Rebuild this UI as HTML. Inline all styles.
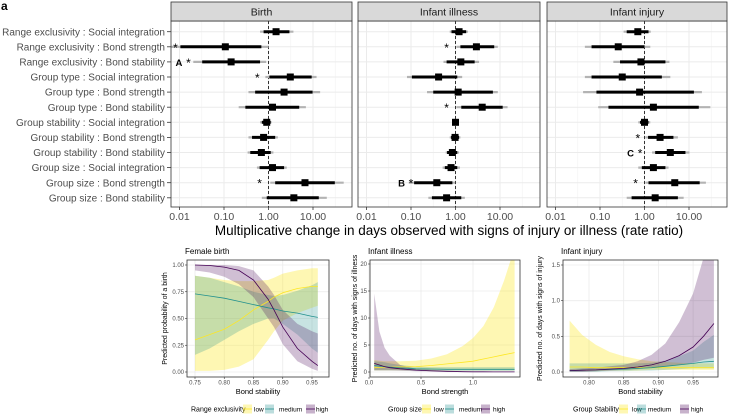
<!DOCTYPE html>
<html><head><meta charset="utf-8"><style>
html,body{margin:0;padding:0;background:#fff;}
svg{display:block;font-family:"Liberation Sans",sans-serif;}
</style></head><body>
<svg id="c" width="730" height="415" viewBox="0 0 730 415" xmlns="http://www.w3.org/2000/svg">
<text x="1" y="10" font-size="12" font-weight="bold" fill="#000">a</text>
</svg>
<script>
// ---------- Top forest-plot data (log10 rate ratios) ----------
const rowLabels = ["Range exclusivity : Social integration","Range exclusivity : Bond strength","Range exclusivity : Bond stability","Group type : Social integration","Group type : Bond strength","Group type : Bond stability","Group stability : Social integration","Group stability : Bond strength","Group stability : Bond stability","Group size : Social integration","Group size : Bond strength","Group size : Bond stability"];
const panelTitles = ["Birth","Infant illness","Infant injury"];
const tickVals = [0.01,0.1,1,10];
const tickLabels = ["0.01","0.10","1.00","10.00"];
const birthEst = [0.17,-0.97,-0.84,0.49,0.35,0.09,-0.04,-0.11,-0.16,0.09,0.82,0.57];
const birthLo = [-0.11,-1.98,-1.49,0.02,-0.30,-0.52,-0.15,-0.37,-0.41,-0.20,0.15,-0.04];
const birthHi = [0.47,-0.16,-0.19,0.97,0.99,0.69,0.05,0.15,0.05,0.35,1.49,1.13];
const birthLo95 = [-0.19,-2.20,-1.69,-0.07,-0.45,-0.67,-0.19,-0.45,-0.47,-0.26,0.04,-0.15];
const birthHi95 = [0.56,0.00,-0.05,1.08,1.16,0.84,0.07,0.21,0.11,0.41,1.69,1.31];
const illEst = [0.08,0.47,0.12,-0.38,0.06,0.60,0.00,-0.01,-0.07,-0.10,-0.42,-0.20];
const illLo = [-0.09,0.11,-0.20,-0.98,-0.50,0.13,-0.05,-0.10,-0.19,-0.24,-0.93,-0.53];
const illHi = [0.24,0.87,0.43,0.04,0.84,1.06,0.06,0.08,0.04,0.04,-0.07,0.13];
const illLo95 = [-0.13,0.02,-0.27,-1.09,-0.64,0.02,-0.07,-0.13,-0.22,-0.29,-1.05,-0.61];
const illHi95 = [0.28,0.95,0.53,0.15,0.95,1.17,0.07,0.11,0.08,0.10,-0.01,0.21];
const injEst = [-0.15,-0.59,-0.08,-0.50,-0.11,0.20,0.00,0.35,0.58,0.20,0.68,0.24];
const injLo = [-0.40,-1.19,-0.55,-1.19,-1.08,-0.81,-0.10,0.08,0.24,-0.06,0.09,-0.29];
const injHi = [0.09,0.00,0.47,0.39,1.11,1.22,0.09,0.65,0.92,0.47,1.24,0.75];
const injLo95 = [-0.47,-1.34,-0.70,-1.34,-1.38,-1.04,-0.14,0.02,0.17,-0.14,0.02,-0.40];
const injHi95 = [0.14,0.13,0.56,0.58,1.29,1.48,0.13,0.75,1.01,0.54,1.38,0.88];
const birthStars = [1,2,3,10];
const illStars = [1,5,10];
const injStars = [7,8,10];
const birthStarX = [-2.09,-1.8,-0.25,-0.2];
const illStarX = [-0.2,-0.2,-1.0];
const injStarX = [-0.15,-0.1,-0.2];

// ---------- Bottom panel data ----------
const birthX = [0.75,0.775,0.80,0.825,0.85,0.875,0.885,0.90,0.925,0.95,0.96];
const birthLowFit = [0.30,0.35,0.40,0.48,0.58,0.66,0.70,0.74,0.78,0.80,0.80];
const birthLowLo = [0.01,0.01,0.02,0.05,0.12,0.30,0.38,0.48,0.55,0.60,0.62];
const birthLowHi = [0.90,0.88,0.86,0.85,0.85,0.86,0.88,0.92,0.95,0.97,0.97];
const birthMedFit = [0.73,0.71,0.69,0.66,0.63,0.60,0.59,0.57,0.55,0.52,0.51];
const birthMedLo = [0.16,0.22,0.30,0.38,0.45,0.50,0.50,0.45,0.35,0.22,0.18];
const birthMedHi = [0.90,0.88,0.84,0.80,0.75,0.72,0.71,0.72,0.76,0.81,0.84];
const birthHighFit = [1.00,0.995,0.98,0.95,0.86,0.68,0.58,0.42,0.22,0.10,0.06];
const birthHighLo = [0.95,0.93,0.89,0.82,0.70,0.50,0.42,0.26,0.10,0.03,0.01];
const birthHighHi = [1.00,1.00,1.00,0.99,0.95,0.80,0.72,0.58,0.45,0.38,0.36];

const illX = [0.05,0.1,0.15,0.2,0.3,0.45,0.6,0.75,0.9,1.0,1.1,1.2,1.3,1.4];
const illLowFit = [0.8,0.85,0.9,0.9,0.95,1.0,1.2,1.5,1.8,2.0,2.4,2.8,3.2,3.6];
const illLowLo = [0.3,0.3,0.3,0.3,0.3,0.3,0.3,0.3,0.3,0.3,0.3,0.3,0.3,0.3];
const illLowHi = [2.2,2.1,2.0,2.0,2.0,2.1,2.5,3.3,4.8,6.3,8.5,12,17,23];
const illMedFit = [1.2,1.1,1.0,0.9,0.75,0.6,0.55,0.5,0.5,0.5,0.5,0.5,0.5,0.5];
const illMedLo = [0.3,0.3,0.3,0.3,0.3,0.25,0.2,0.2,0.2,0.2,0.2,0.2,0.2,0.2];
const illMedHi = [2.0,1.9,1.8,1.6,1.3,1.0,0.9,0.9,0.9,0.9,0.9,0.9,0.9,0.9];
const illHighFit = [1.6,1.3,1.0,0.8,0.6,0.35,0.2,0.12,0.06,0.04,0.03,0.02,0.02,0.02];
const illHighLo = [0.3,0.3,0.3,0.3,0.25,0.15,0.1,0.05,0.02,0.01,0.01,0.01,0.01,0.01];
const illHighHi = [14.5,7.5,4.5,3.0,1.3,0.6,0.4,0.3,0.1,0.05,0.04,0.03,0.03,0.03];

const injX = [0.772,0.79,0.81,0.83,0.85,0.87,0.89,0.91,0.93,0.95,0.965,0.98];
const injLowFit = [0.07,0.07,0.06,0.06,0.06,0.06,0.06,0.06,0.06,0.06,0.06,0.06];
const injLowLo = [0.01,0.01,0.01,0.02,0.02,0.02,0.03,0.03,0.03,0.03,0.03,0.03];
const injLowHi = [0.72,0.52,0.38,0.28,0.22,0.18,0.15,0.14,0.13,0.12,0.12,0.12];
const injMedFit = [0.02,0.025,0.03,0.035,0.04,0.05,0.06,0.08,0.10,0.12,0.14,0.15];
const injMedLo = [0.0,0.0,0.0,0.01,0.01,0.02,0.02,0.03,0.04,0.05,0.05,0.05];
const injMedHi = [0.12,0.12,0.12,0.12,0.12,0.12,0.13,0.16,0.22,0.30,0.42,0.52];
const injHighFit = [0.02,0.025,0.03,0.04,0.05,0.07,0.10,0.15,0.23,0.35,0.50,0.68];
const injHighLo = [0.0,0.0,0.01,0.02,0.03,0.04,0.06,0.08,0.10,0.13,0.17,0.20];
const injHighHi = [0.04,0.05,0.06,0.08,0.10,0.15,0.24,0.40,0.70,1.10,1.60,2.00];

const NS = "http://www.w3.org/2000/svg";
const svg = document.getElementById("c");
function mk(tag, attrs, parent){
  const e = document.createElementNS(NS, tag);
  for (const k in attrs) e.setAttribute(k, attrs[k]);
  (parent||svg).appendChild(e);
  return e;
}

// ---------- Top panels ----------
const panelsTop = [{l:171,r:352},{l:358,r:540},{l:547,r:727}];
const est=[birthEst,illEst,injEst], lo=[birthLo,illLo,injLo], hi=[birthHi,illHi,injHi], lo95=[birthLo95,illLo95,injLo95], hi95=[birthHi95,illHi95,injHi95];
const stars=[birthStars,illStars,injStars], starX=[birthStarX,illStarX,injStarX];
const letters = [{p:0,row:2,t:"A"},{p:1,row:10,t:"B"},{p:2,row:8,t:"C"}];
const pTop=21, pBot=207;
function rowY(i){ return 31.7 + i*15.1; }
panelsTop.forEach((P,pi)=>{
  const xs = v => P.l + 8.5 + (v + 2)*44.5;
  const g = mk("g",{});
  
  
  for (let d=-2; d<=2; d++){
    const xm = xs(d + 0.5);
    if (xm>P.l && xm<P.r) mk("line",{x1:xm,x2:xm,y1:pTop,y2:pBot,stroke:"#f2f2f2","stroke-width":0.6},g);
  }
  tickVals.forEach(t=>{ const x=xs(Math.log10(t)); mk("line",{x1:x,x2:x,y1:pTop,y2:pBot,stroke:"#ebebeb","stroke-width":1},g); });
  rowLabels.forEach((_,i)=>mk("line",{x1:P.l,x2:P.r,y1:rowY(i),y2:rowY(i),stroke:"#ebebeb","stroke-width":1},g));
  mk("line",{x1:xs(0),x2:xs(0),y1:pTop,y2:pBot,stroke:"#333","stroke-width":1,"stroke-dasharray":"3,2"},g);
  rowLabels.forEach((_,i)=>{
    const y=rowY(i);
    const a=Math.max(P.l, xs(lo95[pi][i])), b=Math.min(P.r, xs(hi95[pi][i]));
    const o = mk("line",{x1:a,x2:b,y1:y,y2:y,stroke:"#b3b3b3","stroke-width":2.2},g);
    
    
    const c = mk("line",{x1:Math.max(P.l,xs(lo[pi][i])),x2:xs(hi[pi][i]),y1:y,y2:y,stroke:"#000","stroke-width":3},g);
    
    
    const s = mk("rect",{x:xs(est[pi][i])-3.5,y:y-3.5,width:7,height:7,fill:"#000"},g);
    
    
  });
  stars[pi].forEach((r,k)=>{
    const t = mk("text",{x:xs(starX[pi][k]),y:rowY(r)+5,"font-size":12,"text-anchor":"middle",fill:"#000"},g);
    t.textContent="*";
    
    
  });
  letters.filter(L=>L.p===pi).forEach(L=>{
    const sx = starX[pi][stars[pi].indexOf(L.row)];
    const t = mk("text",{x:xs(sx)-6,y:rowY(L.row)+4,"font-size":9.5,"font-weight":"bold","text-anchor":"end",fill:"#000"},g);
    t.textContent=L.t;
    
    
  });
  mk("rect",{x:P.l,y:pTop,width:P.r-P.l,height:pBot-pTop,fill:"none",stroke:"#333","stroke-width":0.8},g);
  mk("rect",{x:P.l,y:2,width:P.r-P.l,height:pTop-2,fill:"#d9d9d9",stroke:"#333","stroke-width":0.8},g);
  const st = mk("text",{x:(P.l+P.r)/2,y:15.5,"font-size":10.5,"text-anchor":"middle",fill:"#1a1a1a"},g);
  st.textContent = panelTitles[pi];
  
  
  tickVals.forEach((t,k)=>{
    const x=xs(Math.log10(t));
    mk("line",{x1:x,x2:x,y1:pBot,y2:pBot+3,stroke:"#333","stroke-width":0.8},g);
    const tl = mk("text",{x:x,y:pBot+13,"font-size":10.5,"text-anchor":"middle",fill:"#4d4d4d"},g);
    tl.textContent = tickLabels[k];
    
    
  });
});
rowLabels.forEach((lab,i)=>{
  const y=rowY(i);
  mk("line",{x1:167,x2:171,y1:y,y2:y,stroke:"#333","stroke-width":0.8});
  const t = mk("text",{x:165,y:y+3.6,"font-size":10,"text-anchor":"end",fill:"#4d4d4d"});
  t.textContent=lab;
  
  
});
{
  const t = mk("text",{x:449,y:235,"font-size":13.5,"text-anchor":"middle",fill:"#000"});
  t.textContent="Multiplicative change in days observed with signs of injury or illness (rate ratio)";
  
  
}

// ---------- Bottom panels ----------
const cols = {low:"#fde725", med:"#21908d", high:"#440154"};
const bottom = [
  {name:"Female birth", l:187,r:329,t:260,b:377, yd:[0,1], y0px:372, y1px:265,
   xt:[0.75,0.80,0.85,0.90,0.95], xtl:["0.75","0.80","0.85","0.90","0.95"], yt:[0,0.25,0.5,0.75,1], ytl:["0.00","0.25","0.50","0.75","1.00"],
   x:birthX, s:[[birthLowLo,birthLowHi,birthLowFit],[birthMedLo,birthMedHi,birthMedFit],[birthHighLo,birthHighHi,birthHighFit]],
   xlab:"Bond stability", ylab:"Predicted probability of a birth", ylx:165, legT:"Range exclusivity", legX:[191,243,254,265,279,306,316]},
  {name:"Infant illness", l:370,r:520,t:260,b:377, yd:[0,20], y0px:372, y1px:264,
   xt:[0,0.5,1.0], xtl:["0.0","0.5","1.0"], yt:[0,5,10,15,20], ytl:["0","5","10","15","20"],
   x:illX, s:[[illLowLo,illLowHi,illLowFit],[illMedLo,illMedHi,illMedFit],[illHighLo,illHighHi,illHighFit]],
   xlab:"Bond strength", ylab:"Predicted no. of days with signs of illness", ylx:355, legT:"Group size", legX:[388,422,434,445,459,481,493]},
  {name:"Infant injury", l:563,r:718,t:260,b:377, yd:[0,1.5], y0px:372, y1px:265,
   xt:[0.80,0.85,0.90,0.95], xtl:["0.80","0.85","0.90","0.95"], yt:[0,0.5,1.0,1.5], ytl:["0.0","0.5","1.0","1.5"],
   x:injX, s:[[injLowLo,injLowHi,injLowFit],[injMedLo,injMedHi,injMedFit],[injHighLo,injHighHi,injHighFit]],
   xlab:"Bond stability", ylab:"Predicted no. of days with signs of injury", ylx:540, legT:"Group Stability", legX:[573,619,632,637,648,680,691]}
];
const xCal = [
  v => 195 + (v-0.75)/0.05*29.25,
  v => 369 + v/0.5*52,
  v => 589 + (v-0.80)/0.05*34.7
];
const colKeys=["low","med","high"];
bottom.forEach((B,bi)=>{
  const xs = xCal[bi];
  const ys = v => B.y0px + (v-B.yd[0])/(B.yd[1]-B.yd[0])*(B.y1px-B.y0px);
  const g = mk("g",{});
  
  
  const cid = "clip"+bi;
  const cp = mk("clipPath",{id:cid},g);
  mk("rect",{x:B.l,y:B.t,width:B.r-B.l,height:B.b-B.t},cp);
  B.xt.forEach(v=>mk("line",{x1:xs(v),x2:xs(v),y1:B.t,y2:B.b,stroke:"#ebebeb","stroke-width":0.8},g));
  B.yt.forEach(v=>mk("line",{x1:B.l,x2:B.r,y1:ys(v),y2:ys(v),stroke:"#ebebeb","stroke-width":0.8},g));
  const pg = mk("g",{"clip-path":"url(#"+cid+")"},g);
  B.s.forEach((ser,si)=>{
    const [L,H,F]=ser;
    let d="M"+B.x.map((v,k)=>xs(v).toFixed(1)+","+ys(H[k]).toFixed(1)).join("L");
    for(let k=B.x.length-1;k>=0;k--) d+="L"+xs(B.x[k]).toFixed(1)+","+ys(L[k]).toFixed(1);
    d+="Z";
    const band = mk("path",{d:d,fill:cols[colKeys[si]],"fill-opacity":si===0?0.35:0.25,stroke:"none"},pg);
    
    
  });
  B.s.forEach((ser,si)=>{
    const F=ser[2];
    const ln = mk("polyline",{points:B.x.map((v,k)=>xs(v).toFixed(1)+","+ys(F[k]).toFixed(1)).join(" "),fill:"none",stroke:cols[colKeys[si]],"stroke-width":0.8},pg);
    
    
  });
  mk("rect",{x:B.l,y:B.t,width:B.r-B.l,height:B.b-B.t,fill:"none",stroke:"#333","stroke-width":0.8},g);
  B.xt.forEach((v,k)=>{
    mk("line",{x1:xs(v),x2:xs(v),y1:B.b,y2:B.b+2,stroke:"#333","stroke-width":0.6},g);
    const t=mk("text",{x:xs(v),y:B.b+7.5,"font-size":6,"text-anchor":"middle",fill:"#4d4d4d"},g);
    t.textContent=B.xtl[k];
    
    
  });
  B.yt.forEach((v,k)=>{
    mk("line",{x1:B.l-2,x2:B.l,y1:ys(v),y2:ys(v),stroke:"#333","stroke-width":0.6},g);
    const t=mk("text",{x:B.l-3,y:ys(v)+2,"font-size":6,"text-anchor":"end",fill:"#4d4d4d"},g);
    t.textContent=B.ytl[k];
    
    
  });
  const ti=mk("text",{x:B.l-2,y:254,"font-size":8,fill:"#000"},g);
  ti.textContent=B.name;
  
  
  const xl=mk("text",{x:(B.l+B.r)/2,y:394,"font-size":7.5,"text-anchor":"middle",fill:"#000"},g);
  xl.textContent=B.xlab;
  
  
  const yl=mk("text",{x:0,y:0,"font-size":7,"text-anchor":"middle",fill:"#000",transform:"translate("+(B.ylx+2)+","+((B.t+B.b)/2)+") rotate(-90)"},g);
  yl.textContent=B.ylab;
  
  
  const LX=B.legX, ly=409;
  const lt=mk("text",{x:LX[0],y:ly+2.5,"font-size":7,fill:"#000"},g);
  lt.textContent=B.legT;
  
  
  const names=["low","medium","high"];
  [[LX[1],LX[2]],[LX[3],LX[4]],[LX[5],LX[6]]].forEach((p,k)=>{
    const kg=mk("g",{},g);
    
    
    mk("rect",{x:p[0],y:ly-4.5,width:9,height:9,fill:cols[colKeys[k]],"fill-opacity":k===0?0.35:0.3},kg);
    mk("line",{x1:p[0],x2:p[0]+9,y1:ly,y2:ly,stroke:cols[colKeys[k]],"stroke-width":0.8},kg);
    const t=mk("text",{x:p[1],y:ly+2.5,"font-size":6.5,fill:"#000"},kg);
    t.textContent=names[k];
  });
});
</script>
</body></html>
